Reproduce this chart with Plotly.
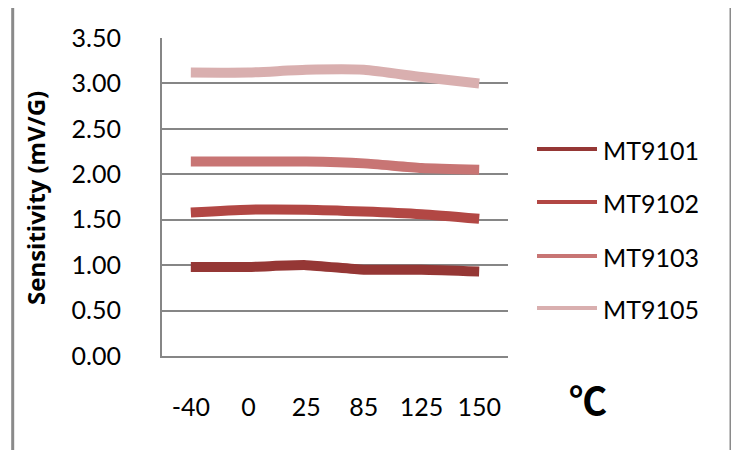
import plotly.graph_objects as go

categories = ["-40", "0", "25", "85", "125", "150"]
series_names = ["MT9101", "MT9102", "MT9103", "MT9105"]
mt9101 = [0.98, 0.98, 1.00, 0.95, 0.95, 0.93]
mt9102 = [1.58, 1.61, 1.61, 1.59, 1.56, 1.51]
mt9103 = [2.14, 2.14, 2.14, 2.12, 2.07, 2.05]
mt9105 = [3.12, 3.12, 3.15, 3.15, 3.07, 3.00]
colors = ["#953735", "#B24744", "#C87574", "#D9AFAF"]

W, H = 739, 450
OFF = 8  # page body margin
L, R, T, B = 162, 508, 38, 356
PW, PH = R - L, B - T

def px(x):
    return (x - L) / PW

def py(y):
    return (B - y) / PH

FONT = "Lato"
fig = go.Figure()
for name, vals, col in zip(series_names, [mt9101, mt9102, mt9103, mt9105], colors):
    fig.add_trace(go.Scatter(x=categories, y=vals, mode="lines", name=name,
                             line=dict(color=col, width=10, shape="spline", smoothing=0.6),
                             showlegend=False))

shapes = []
annotations = []
# outer border
shapes.append(dict(type="rect", xref="paper", yref="paper",
                   x0=px(12.7), x1=px(731), y0=py(470), y1=py(6),
                   line=dict(color="#8a8a8a", width=3), layer="below"))
# custom legend
leg_y = [149, 202, 256, 308]
for name, col, yy in zip(series_names, colors, leg_y):
    shapes.append(dict(type="line", xref="paper", yref="paper",
                       x0=px(537), x1=px(597), y0=py(yy), y1=py(yy),
                       line=dict(color=col, width=4)))
    annotations.append(dict(xref="paper", yref="paper", x=px(601), y=py(yy + 1),
                            text=name, showarrow=False, xanchor="left", yanchor="middle",
                            font=dict(family=FONT, size=25, color="#000000")))
annotations.append(dict(xref="paper", yref="paper", x=px(35), y=py(198),
                        text="<b>Sensitivity (mV/G)</b>", textangle=-90, showarrow=False,
                        xanchor="center", yanchor="middle",
                        font=dict(family="Open Sans", size=24, color="#000000")))
annotations.append(dict(xref="paper", yref="paper", x=px(588), y=py(398),
                        text="<b>℃</b>", showarrow=False, xanchor="center", yanchor="middle",
                        font=dict(family="Noto Sans CJK SC", size=38, color="#000000")))

fig.update_layout(
    width=W, height=H,
    margin=dict(l=L - OFF, r=W + OFF - R, t=T - OFF, b=H + OFF - B, pad=0),
    paper_bgcolor="white", plot_bgcolor="white",
    showlegend=False,
    shapes=shapes, annotations=annotations,
    font=dict(family=FONT, size=24, color="#000000"),
)
fig.update_xaxes(type="category", range=[-0.5, 5.5], showgrid=False, zeroline=False,
                 showline=True, linecolor="#868686", linewidth=2,
                 ticks="outside", ticklen=28, tickcolor="rgba(0,0,0,0)",
                 tickfont=dict(family=FONT, size=25, color="#000000"))
fig.update_yaxes(range=[0, 3.5], dtick=0.5, tick0=0, tickformat=".2f",
                 showgrid=True, gridcolor="#868686", gridwidth=2, zeroline=False,
                 showline=True, linecolor="#868686", linewidth=2,
                 ticks="outside", ticklen=34, tickcolor="rgba(0,0,0,0)",
                 tickfont=dict(family=FONT, size=25, color="#000000"))

fig.write_html("out.html")
